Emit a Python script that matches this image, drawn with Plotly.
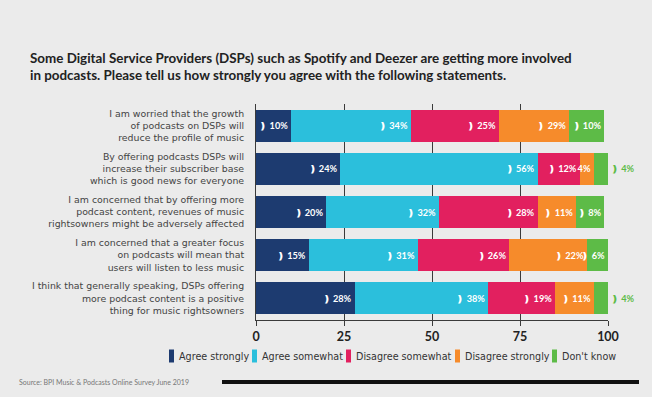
import plotly.graph_objects as go

statements = [
    "I am worried that the growth<br>of podcasts on DSPs will<br>reduce the profile of music",
    "By offering podcasts DSPs will<br>increase their subscriber base<br>which is good news for everyone",
    "I am concerned that by offering more<br>podcast content, revenues of music<br>rightsowners might be adversely affected",
    "I am concerned that a greater focus<br>on podcasts will mean that<br>users will listen to less music",
    "I think that generally speaking, DSPs offering<br>more podcast content is a positive<br>thing for music rightsowners",
]

series_names = ["Agree strongly", "Agree somewhat", "Disagree somewhat", "Disagree strongly", "Don't know"]

# bar lengths as drawn
agree_strongly = [10, 24, 20, 15, 28]
agree_somewhat = [34, 56, 32, 31, 38]
disagree_somewhat = [25, 12, 28, 26, 19]
disagree_strongly = [20, 4, 11, 22, 11]
dont_know = [10, 4, 8, 6, 4]

# percentages as printed on the bars
agree_strongly_lbl = [10, 24, 20, 15, 28]
agree_somewhat_lbl = [34, 56, 32, 31, 38]
disagree_somewhat_lbl = [25, 12, 28, 26, 19]
disagree_strongly_lbl = [29, 4, 11, 22, 11]
dont_know_lbl = [10, 4, 8, 6, 4]

x_ticks = [0, 25, 50, 75, 100]

colors = ["#1d3b70", "#2bbfdc", "#e2205f", "#f68b2b", "#5dbb47"]

values = [agree_strongly, agree_somewhat, disagree_somewhat, disagree_strongly, dont_know]
labels = [agree_strongly_lbl, agree_somewhat_lbl, disagree_somewhat_lbl, disagree_strongly_lbl, dont_know_lbl]

FONT = "Lato"
MARK = "\u276b "

W, H = 652, 397
L, R, T, B = 256, 44, 104, 77
PW, PH = W - L - R, H - T - B


def px(xp):
    return (xp - L) / PW


def py(yp):
    return (H - B - yp) / PH


fig = go.Figure()
for idx, (name, vals, lbls, col) in enumerate(zip(series_names, values, labels, colors)):
    texts, pos = [], []
    for v, l in zip(vals, lbls):
        if v < 5 and idx == 3:
            texts.append(f"{l}%")
            pos.append("inside")
        elif v < 5:
            texts.append(f"{MARK}{l}%")
            pos.append("outside")
        else:
            texts.append(f"{MARK}{l}%")
            pos.append("inside")
    fig.add_trace(go.Bar(
        y=statements, x=vals, name=name, orientation="h",
        marker=dict(color=col, line=dict(width=0)),
        text=texts, textposition=pos, insidetextanchor="end",
        textangle=0, constraintext="none", cliponaxis=False,
        insidetextfont=dict(family=FONT, size=9.2, color="white", weight="bold"),
        outsidetextfont=dict(family=FONT, size=9.2, color=col, weight="bold"),
        width=0.74, showlegend=False,
    ))

fig.update_layout(
    barmode="stack",
    width=W, height=H,
    paper_bgcolor="#ebebeb", plot_bgcolor="#ebebeb",
    margin=dict(l=L, r=R, t=T, b=B),
    font=dict(family=FONT, color="#333333"),
    showlegend=False,
)

fig.update_xaxes(
    range=[0, 100], tickvals=x_ticks, ticktext=[str(t) for t in x_ticks],
    showgrid=True, gridcolor="#3a3a3a", gridwidth=1,
    showline=True, linecolor="#3a3a3a", linewidth=1,
    ticks="outside", ticklen=5, tickcolor="#3a3a3a",
    tickfont=dict(family=FONT, size=12.5, color="#222222", weight="bold"),
    zeroline=False, automargin=False,
)
fig.update_yaxes(
    autorange="reversed", showline=True, linecolor="#3a3a3a", linewidth=1,
    ticks="", tickfont=dict(family="DejaVu Sans", size=9.4, color="#444444"),
    ticklabelstandoff=9, automargin=False,
)

# title
fig.add_annotation(
    text="<b>Some Digital Service Providers (DSPs) such as Spotify and Deezer are getting more involved<br>in podcasts. Please tell us how strongly you agree with the following statements.</b>",
    xref="paper", yref="paper", x=px(28), y=py(48), xanchor="left", yanchor="top",
    align="left", showarrow=False, font=dict(family=FONT, size=13.4, color="#222222"),
)

# legend (manual, single row)
legend_x = [169, 252, 346, 455, 552]
legend_y = 356
for name, col, lx in zip(series_names, colors, legend_x):
    fig.add_shape(type="rect", xref="paper", yref="paper",
                  x0=px(lx), x1=px(lx + 5), y0=py(legend_y + 6.5), y1=py(legend_y - 6.5),
                  fillcolor=col, line=dict(width=0))
    fig.add_annotation(text=name, xref="paper", yref="paper", x=px(lx + 8), y=py(legend_y),
                       xanchor="left", yanchor="middle", showarrow=False,
                       font=dict(family="DejaVu Sans", size=9.6, color="#333333"))

# source + black rule
fig.add_annotation(
    text="Source: BPI Music & Podcasts Online Survey June 2019",
    xref="paper", yref="paper", x=px(17), y=py(382),
    xanchor="left", yanchor="middle", showarrow=False,
    font=dict(family=FONT, size=7, color="#777777"),
)
fig.add_shape(
    type="line", xref="paper", yref="paper",
    x0=px(222), x1=px(639), y0=py(382), y1=py(382),
    line=dict(color="#111111", width=4),
)

fig.write_html(
    "out.html",
    config={"displayModeBar": False},
    post_script="document.body.style.margin='0';document.body.style.overflow='hidden';",
)
